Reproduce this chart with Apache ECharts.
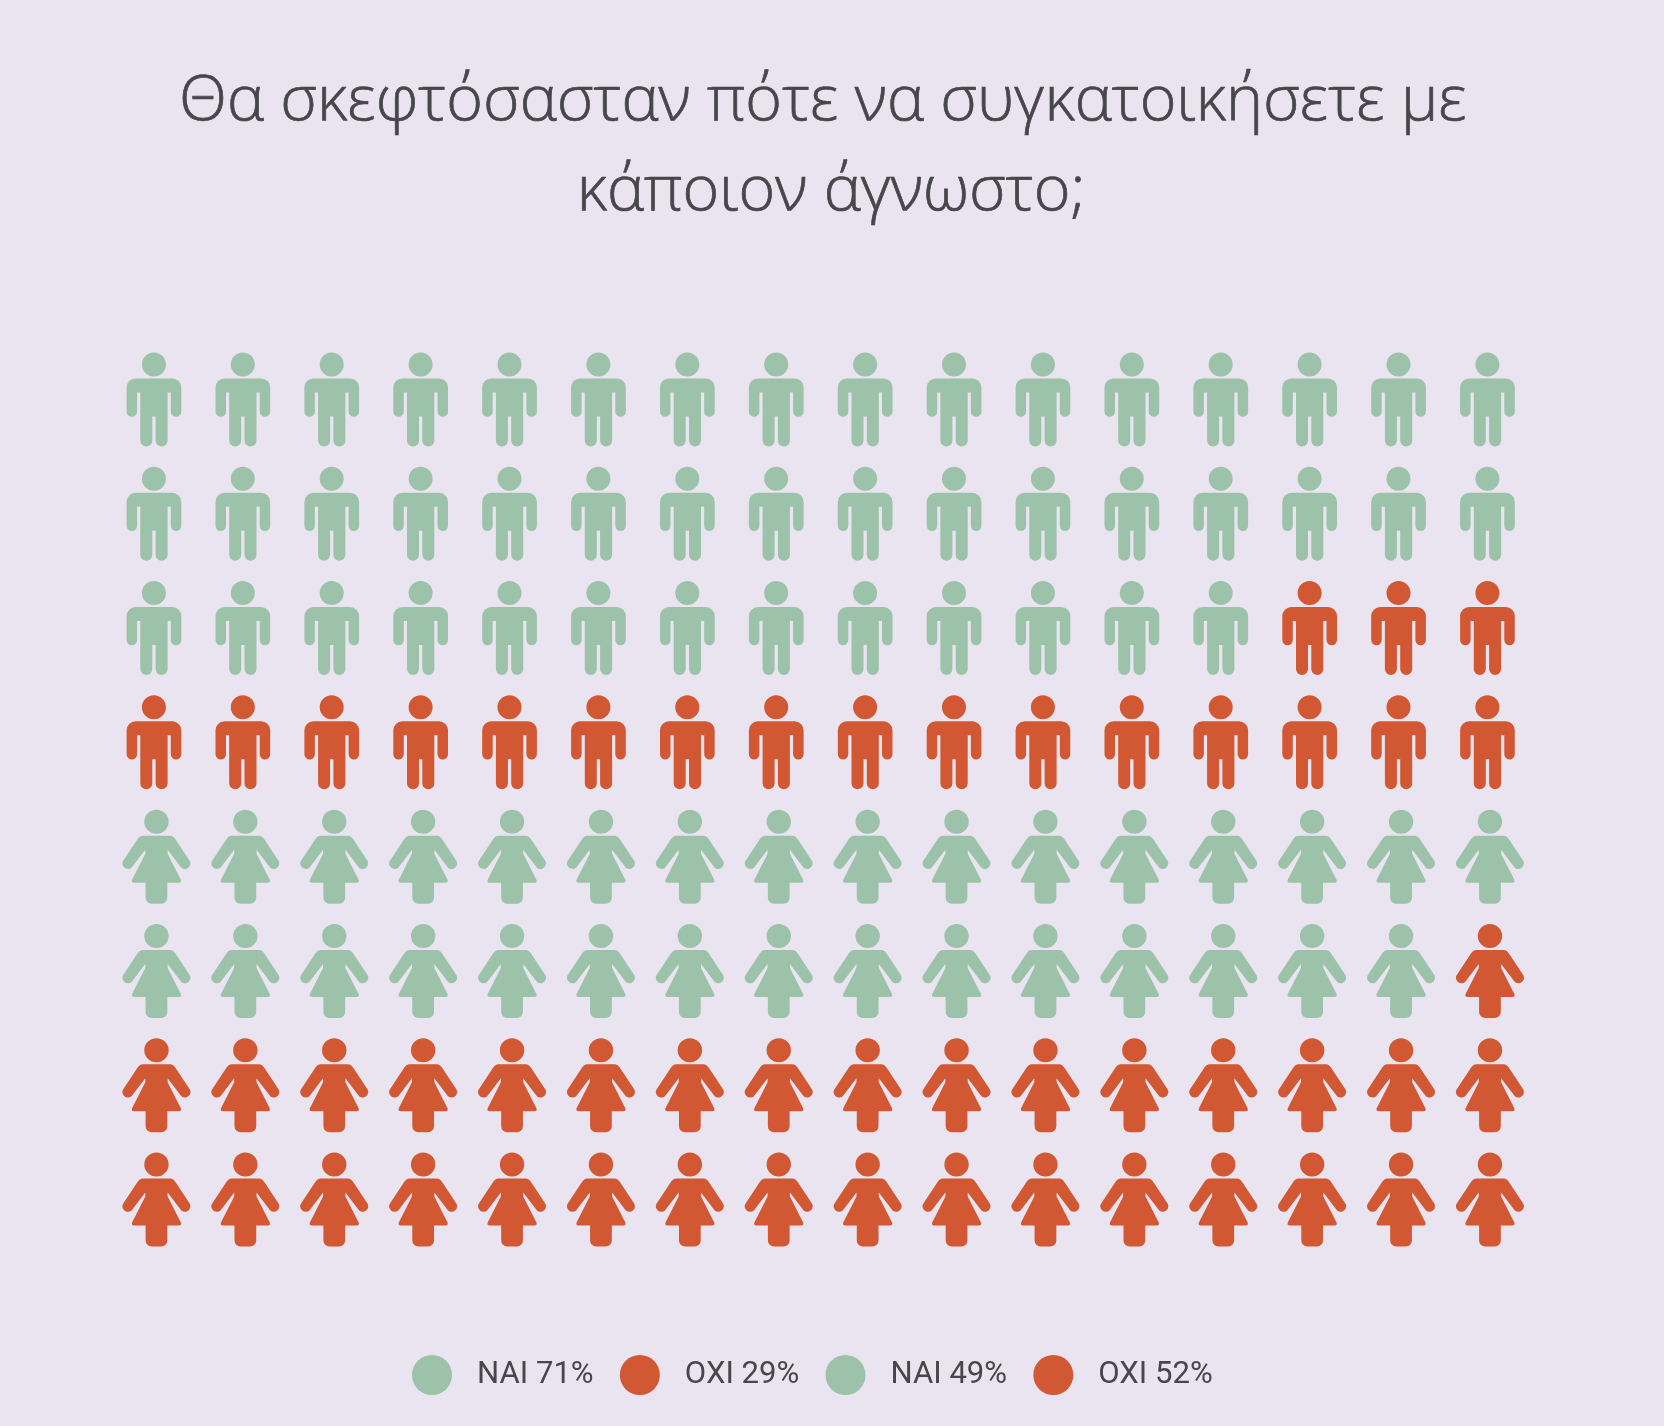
<!DOCTYPE html>
<html><head><meta charset="utf-8">
<style>html,body{margin:0;padding:0;background:#E9E4EF}#c{width:1664px;height:1426px}</style>
<script src="https://cdn.jsdelivr.net/npm/echarts@6/dist/echarts.min.js"></script>
</head><body><div id="c"></div>
<script>
const titleText = 'Θα σκεφτόσασταν πότε να συγκατοικήσετε με \nκάποιον άγνωστο;';
const legendNames = ['ΝΑΙ 71%', 'ΟΧΙ 29%', 'ΝΑΙ 49%', 'ΟΧΙ 52%'];
const columns = ['1','2','3','4','5','6','7','8','9','10','11','12','13','14','15','16'];
const rows = ['m1','m2','m3','m4','f1','f2','f3','f4'];
const menYes = [16, 16, 13, 0];
const menNo = [0, 0, 3, 16];
const womenYes = [16, 15, 0, 0];
const womenNo = [0, 1, 16, 16];

const GREEN = '#9CC2A9', ORANGE = '#D15832', BG = '#E9E4EF', INK = '#47464B';
const manIcon = 'path://M15.3 12a12 12 0 1 0 24 0a12 12 0 1 0 -24 0ZM9 26H45.7a9 9 0 0 1 9 9V59a5.25 5.25 0 0 1 -10.5 0V40H41V88a6 6 0 0 1 -12 0V64H25.7V88a6 6 0 0 1 -12 0V40H10.5V59a5.25 5.25 0 0 1 -10.5 0V35a9 9 0 0 1 9 -9Z';
const womanIcon = 'path://M22 12a12 12 0 1 0 24 0a12 12 0 1 0 -24 0ZM20.5 26H47.5Q50.5 26 53 30L67 51.5A5.5 5.5 0 0 1 58.5 58L45 40V44L58 70Q59 73 56 73H44.7V88A6 6 0 0 1 38.7 94H29.3A6 6 0 0 1 23.3 88V73H12Q9 73 10 70L23 44V40L9.5 58A5.5 5.5 0 0 1 1 51.5L15 30Q17.5 26 20.5 26Z';

function leftCells(counts, rowStart) {
  const out = [];
  counts.forEach((n, r) => { for (let c = 0; c < n; c++) out.push([c, r + rowStart]); });
  return out;
}
function rightCells(counts, rowStart) {
  const out = [];
  counts.forEach((n, r) => { for (let c = columns.length - n; c < columns.length; c++) out.push([c, r + rowStart]); });
  return out;
}
function iconSeries(name, cells, icon, size, color, offset) {
  return { type: 'scatter', name, data: cells, symbol: icon, symbolSize: size, symbolOffset: offset,
           itemStyle: { color, opacity: 1 }, silent: true, animation: false };
}
const chart = echarts.init(document.getElementById('c'), null, { renderer: 'canvas' });
chart.setOption({
  backgroundColor: BG,
  animation: false,
  title: { text: titleText, left: 826, top: 52, textAlign: 'center',
    textStyle: { fontFamily: '"Open Sans"', fontSize: 62.7, fontWeight: 300, color: INK, lineHeight: 90,
                 textBorderColor: INK, textBorderWidth: 0.7 } },
  legend: { show: true, left: 407, top: 1350, itemWidth: 40, itemHeight: 40, itemGap: 26.2, icon: 'circle',
    data: legendNames,
    textStyle: { fontFamily: 'Roboto', fontSize: 31.1, color: INK, padding: [0, 0, 0, 20] } },
  grid: { left: 109.5, top: 342.3, width: 1422.4, height: 914.4 },
  xAxis: { type: 'category', data: columns, show: false },
  yAxis: { type: 'category', data: rows, inverse: true, show: false },
  series: [
    iconSeries(legendNames[0], leftCells(menYes, 0), manIcon, [54.7, 94], GREEN, [0, 0]),
    iconSeries(legendNames[1], rightCells(menNo, 0), manIcon, [54.7, 94], ORANGE, [0, 0]),
    iconSeries(legendNames[2], leftCells(womenYes, 4), womanIcon, [68, 94], GREEN, [2.5, 0]),
    iconSeries(legendNames[3], rightCells(womenNo, 4), womanIcon, [68, 94], ORANGE, [2.5, 0])
  ]
});
</script></body></html>
